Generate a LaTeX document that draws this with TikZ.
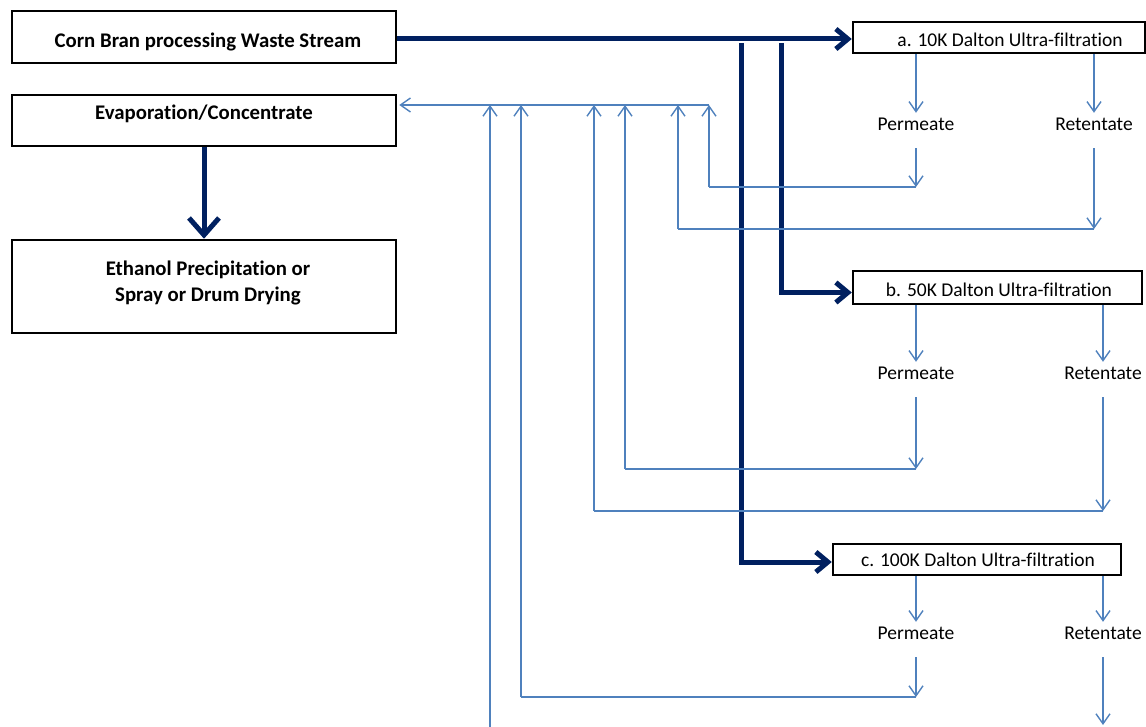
\documentclass[tikz,border=0pt]{standalone}
\usepackage{fontspec}
\setmainfont{Carlito}[Ligatures=NoCommon]
\usetikzlibrary{arrows.meta}
\definecolor{navy}{HTML}{002060}
\definecolor{lblue}{HTML}{4F81BD}
\begin{document}
\begin{tikzpicture}[x=1pt,y=-1pt,
  box/.style={draw=black, line width=2.5pt, inner sep=0pt, rectangle},
  txt/.style={font=\fontsize{19.5}{26}\selectfont, inner sep=0pt, align=center},
  btxt/.style={font=\fontsize{20.8}{26}\selectfont\bfseries, inner sep=0pt, align=center},
  lab/.style={font=\fontsize{19.5}{24}\selectfont, inner sep=0pt, anchor=base, text height=17.5pt, text depth=17.5pt},
  bigarrow/.style={draw=navy, line width=5pt, -{Straight Barb[length=12pt,width=20pt]}},
  bigdown/.style={draw=navy, line width=5pt, -{Straight Barb[length=17pt,width=30pt]}},
  tarrow/.style={draw=lblue, line width=1.4pt, -{Straight Barb[length=10pt,width=14pt]}},
  tline/.style={draw=lblue, line width=1.4pt}]
\useasboundingbox (0,0) rectangle (1146,727);

% left boxes
\node[box, minimum width=384pt, minimum height=52pt] (corn) at (204,37) {};
\node[btxt] (cornT) at (208,42) {Corn Bran processing Waste Stream};
\node[box, minimum width=384pt, minimum height=51pt] (evap) at (204,120.5) {};
\node[btxt] (evapT) at (204,114) {Evaporation/Concentrate};
\node[box, minimum width=384pt, minimum height=93pt] (eth) at (204,286.5) {};
\node[btxt] (ethT) at (208,283) {Ethanol Precipitation or\\Spray or Drum Drying};

% filter boxes
\node[box, minimum width=292pt, minimum height=31pt] (fa) at (999,37.5) {};
\node[txt] (faT) at (1010,40) {a. 10K Dalton Ultra-filtration};
\node[box, minimum width=289pt, minimum height=33pt] (fb) at (997.5,287.5) {};
\node[txt] (fbT) at (999,290) {b. 50K Dalton Ultra-filtration};
\node[box, minimum width=288pt, minimum height=31pt] (fc) at (977,559.5) {};
\node[txt] (fcT) at (978,560) {c. 100K Dalton Ultra-filtration};

% labels
\node[lab] (pa) at (916,130.5) {Permeate};
\node[lab] (ra) at (1094,130.5) {Retentate};
\node[lab] (pb) at (916,379.5) {Permeate};
\node[lab] (rb) at (1103,379.5) {Retentate};
\node[lab] (pc) at (916,639.5) {Permeate};
\node[lab] (rc) at (1103,639.5) {Retentate};

% thick main flow
\draw[bigarrow] ([yshift=-2pt]corn.east) -- ([yshift=-2pt]corn.east -| fa.west);
\coordinate (v1) at (741,43);
\coordinate (v2) at (781,43);
\draw[bigarrow] (v1) |- ([yshift=-2.5pt]fc.west);
\draw[bigarrow] (v2) |- ([yshift=-5pt]fb.west);
\draw[bigdown] (evap.south) -- (eth.north);

% thin flows from filters
\draw[tarrow] (fa.south -| pa) -- (pa.north);
\draw[tarrow] (fa.south -| ra) -- (ra.north);
\draw[tarrow] (fb.south -| pb) -- (pb.north);
\draw[tarrow] (fb.south -| rb) -- (rb.north);
\draw[tarrow] (fc.south -| pc) -- (pc.north);
\draw[tarrow] (fc.south -| rc) -- (rc.north);

% collectors
\coordinate (pae) at (916,187);
\coordinate (rae) at (1094,229);
\coordinate (pbe) at (916,469);
\coordinate (rbe) at (1103,511);
\coordinate (pce) at (916,697);
\coordinate (rce) at (1103,725);
\draw[tarrow] (pa.south) -- (pae);
\draw[tarrow] (ra.south) -- (rae);
\draw[tarrow] (pb.south) -- (pbe);
\draw[tarrow] (rb.south) -- (rbe);
\draw[tarrow] (pc.south) -- (pce);
\draw[tarrow] (rc.south) -- (rce);

% return lines
\coordinate (t1) at (709,105);
\coordinate (t2) at (678,105);
\coordinate (t3) at (625,105);
\coordinate (t4) at (594,105);
\coordinate (t5) at (521,105);
\coordinate (t6) at (490,105);
\coordinate (b6) at (490,727);
\draw[tline] (pae) -| (t1 |- pae);
\draw[tarrow] (t1 |- pae) -- (t1);
\draw[tline] (rae) -| (t2 |- rae);
\draw[tarrow] (t2 |- rae) -- (t2);
\draw[tline] (pbe) -| (t3 |- pbe);
\draw[tarrow] (t3 |- pbe) -- (t3);
\draw[tline] (rbe) -| (t4 |- rbe);
\draw[tarrow] (t4 |- rbe) -- (t4);
\draw[tline] (pce) -| (t5 |- pce);
\draw[tarrow] (t5 |- pce) -- (t5);
\draw[tarrow] (b6) -- (t6);
\draw[tarrow] (t1) -- ([xshift=2pt]t1 -| evap.east);
\end{tikzpicture}
\end{document}
